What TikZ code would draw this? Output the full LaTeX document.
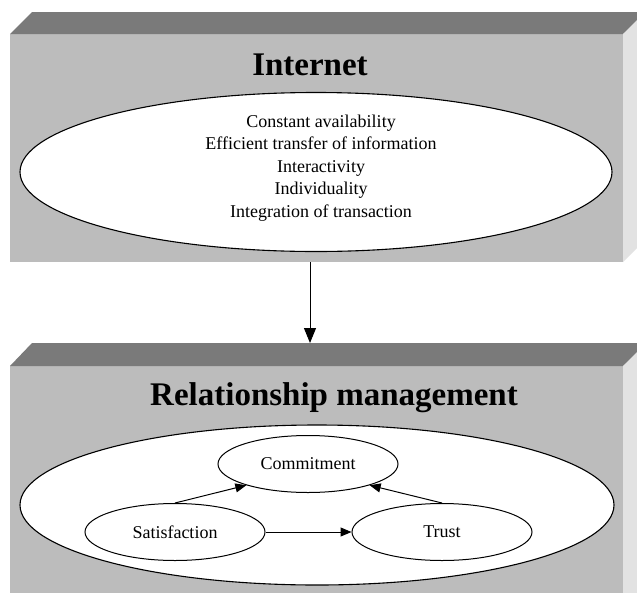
\documentclass[tikz,border=0pt]{standalone}
\usepackage{fontspec}
\setmainfont{Liberation Serif}
\usetikzlibrary{shapes.geometric,arrows.meta}
\definecolor{topface}{RGB}{122,122,122}
\definecolor{frontface}{RGB}{188,188,188}
\definecolor{sideface}{RGB}{226,226,226}
\tikzset{
  topshape/.style={fill=topface,draw=none},
  frontshape/.style={fill=frontface,draw=none},
  sideshape/.style={fill=sideface,draw=none},
  bigell/.style={ellipse,draw=black,line width=1.1pt,fill=white,inner sep=0pt},
  smallell/.style={ellipse,draw=black,line width=1pt,fill=white,inner sep=0pt,
    minimum width=180pt,minimum height=57pt,font=\fontsize{18}{22}\selectfont},
  titletext/.style={font=\fontsize{33}{40}\selectfont\bfseries,anchor=base,inner sep=0pt},
  listtext/.style={font=\fontsize{18}{22.5}\selectfont,align=center,inner sep=0pt},
  conn/.style={draw=black,line width=1pt,-{Triangle[length=11pt,width=9pt]}},
  mainconn/.style={draw=black,line width=1pt,-{Triangle[length=15pt,width=12pt]}}
}
\begin{document}
\begin{tikzpicture}[x=1pt,y=-1pt]
\useasboundingbox (0,0) rectangle (637,592);
\clip (0,0) rectangle (637,592);
\fill[white] (0,0) rectangle (637,592);
% box 1
\path[frontshape] (10,34) rectangle (623,262);
\path[topshape] (10,34) -- (32,12) -- (650,12) -- (623,34) -- cycle;
\path[sideshape] (623,34) -- (645,12) -- (645,240) -- (623,262) -- cycle;
% box 2
\path[frontshape] (10,366) rectangle (623,600);
\path[topshape] (10,366) -- (32,343) -- (650,343) -- (623,366) -- cycle;
\path[sideshape] (623,366) -- (646,343) -- (646,600) -- (623,600) -- cycle;
% titles
\node[titletext] (t1) at (310,75) {Internet};
\node[titletext] (t2) at (334,405) {Relationship management};
% internet ellipse
\node[bigell,minimum width=592pt,minimum height=159pt] (inet) at (316,172) {};
\node[listtext] (inettext) at (321,168) {Constant availability\\Efficient transfer of information\\Interactivity\\Individuality\\Integration of transaction};
% relationship ellipse
\node[bigell,minimum width=594pt,minimum height=160pt] (rel) at (317,505) {};
\node[smallell] (com) at (308,464) {Commitment};
\node[smallell] (sat) at (175,532) {Satisfaction};
\node[smallell] (trust) at (442,532) {Trust};
% connectors
\coordinate (b1bottom) at (310,262);
\coordinate (b2top) at (310,343);
\draw[mainconn] (b1bottom) -- (b2top);
\draw[conn] (sat.north) -- (com.199);
\draw[conn] (trust.north) -- (com.341);
\draw[conn] (sat.east) -- (trust.west);
\end{tikzpicture}
\end{document}
